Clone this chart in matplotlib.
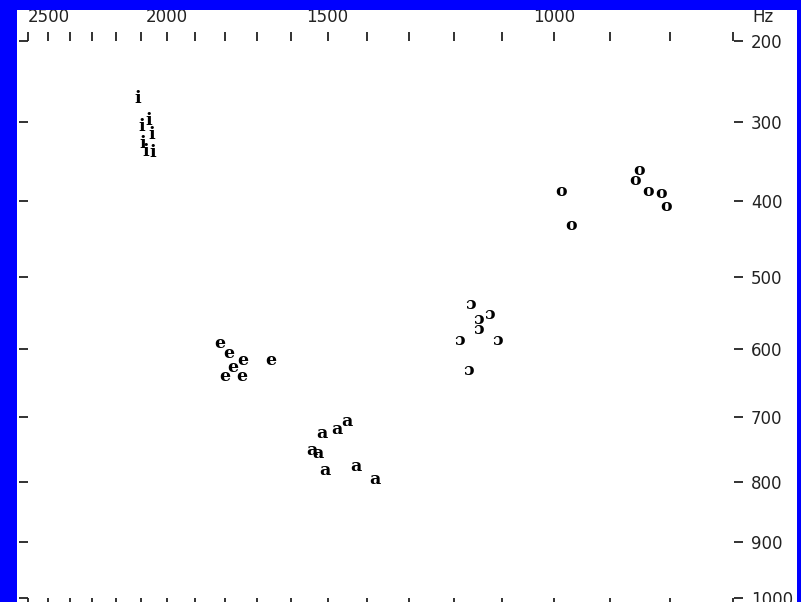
import numpy as np
import matplotlib
matplotlib.use("Agg")
import matplotlib.pyplot as plt
from matplotlib.patches import Rectangle
from matplotlib.ticker import FixedLocator, FuncFormatter

# Formant measurements (Hz): F2 on the horizontal axis, F1 on the vertical axis
i_f2 = [2110, 2095, 2070, 2058, 2092, 2080, 2055]
i_f1 = [270, 305, 298, 315, 327, 336, 338]

e_f2 = [1817, 1788, 1745, 1775, 1800, 1748, 1660]
e_f1 = [592, 606, 617, 627, 639, 639, 617]

a_f2 = [1515, 1477, 1449, 1542, 1527, 1506, 1427, 1380]
a_f1 = [724, 718, 707, 751, 755, 782, 776, 797]

open_o_f2 = [1165, 1126, 1149, 1149, 1188, 1109, 1170]
open_o_f1 = [537, 552, 559, 573, 588, 588, 631]

o_f2 = [988, 970, 850, 857, 836, 815, 806]
o_f1 = [387, 432, 360, 374, 387, 390, 407]

vowels = [
    ("i", i_f2, i_f1),
    ("e", e_f2, e_f1),
    ("a", a_f2, a_f1),
    ("\u0254", open_o_f2, open_o_f1),
    ("o", o_f2, o_f1),
]

x_ticks = list(range(2600, 699, -100))
x_tick_labels = [2500, 2000, 1500, 1000]
y_ticks = list(range(200, 1001, 100))


# Zwicker Bark scale used for both formant axes
def bark(f):
    f = np.asarray(f, dtype=float)
    return 13.0 * np.arctan(0.00076 * f) + 3.5 * np.arctan((f / 7500.0) ** 2)


_f_grid = np.linspace(0.0, 12000.0, 48001)
_z_grid = bark(_f_grid)


def bark_inv(z):
    return np.interp(np.asarray(z, dtype=float), _z_grid, _f_grid)


W, H = 801, 602
fig = plt.figure(figsize=(W / 100, H / 100), dpi=100, facecolor="white")
ax = fig.add_axes([28.3 / W, (H - 598) / H, (733.5 - 28.3) / W, (598 - 41) / H])
ax.set_facecolor("white")

ax.set_xscale("function", functions=(bark, bark_inv))
ax.set_yscale("function", functions=(bark, bark_inv))
ax.set_xlim(2600, 700)
ax.set_ylim(1000, 200)

for sym, f2, f1 in vowels:
    for x, y in zip(f2, f1):
        ax.text(x, y, sym, ha="center", va="center", fontsize=12.5,
                fontweight="bold", family=["DejaVu Serif"], color="black")

for s in ax.spines.values():
    s.set_visible(False)

tick_color = "#222222"
ax.xaxis.set_major_locator(FixedLocator(x_ticks))
ax.xaxis.set_major_formatter(
    FuncFormatter(lambda v, p: f"{int(round(v))}" if int(round(v)) in x_tick_labels else ""))
ax.xaxis.set_minor_locator(FixedLocator([]))
ax.yaxis.set_major_locator(FixedLocator(y_ticks))
ax.yaxis.set_major_formatter(FuncFormatter(lambda v, p: f"{int(round(v))}"))
ax.yaxis.set_minor_locator(FixedLocator([]))

ax.tick_params(axis="both", which="major", direction="out", length=6.5, width=1.3,
               color=tick_color, labelcolor=tick_color, labelsize=12,
               top=True, bottom=True, left=True, right=True)
ax.tick_params(axis="x", labeltop=True, labelbottom=False, pad=4.0)
ax.tick_params(axis="y", labelright=True, labelleft=False, pad=6.0)

fig.text(752 / W, 1 - 17.5 / H, "Hz", ha="left", va="center", fontsize=12,
         color=tick_color)

# Blue window frame on the left, top and right
blue = "#0000ff"
for (x0, y0, w, h) in [(0, 0, 17 / W, 1), (0, 1 - 10 / H, 1, 10 / H),
                       (797 / W, 0, 4 / W, 1)]:
    fig.add_artist(Rectangle((x0, y0), w, h, transform=fig.transFigure,
                             facecolor=blue, edgecolor="none", zorder=10))

fig.savefig("out.png", dpi=100, facecolor="white")
